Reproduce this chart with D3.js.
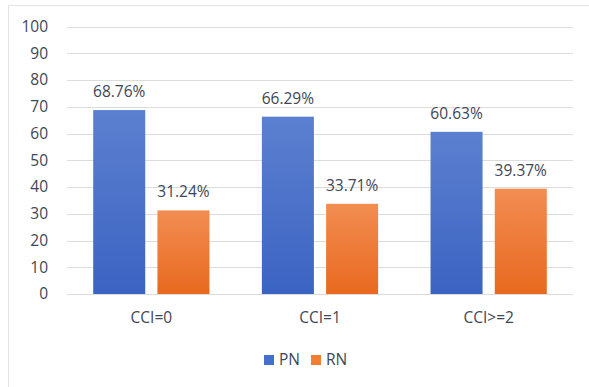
<!DOCTYPE html>
<html>
<head>
<meta charset="utf-8">
<script src="https://cdn.jsdelivr.net/npm/d3@7"></script>
<style>
  body { margin: 0; background: #fff; }
  svg { display: block; font-family: "Open Sans", "Noto Sans", sans-serif; }
</style>
</head>
<body>
<svg id="area" width="589" height="387"></svg>
<script>
const categories = ["CCI=0", "CCI=1", "CCI>=2"];
const seriesNames = ["PN", "RN"];
const pnValues = [68.76, 66.29, 60.63];
const rnValues = [31.24, 33.71, 39.37];
const yTicks = [0, 10, 20, 30, 40, 50, 60, 70, 80, 90, 100];

const svg = d3.select("#area");
const textColor = "#3e4656";

// gradients for the bars
const defs = svg.append("defs");
const grads = { PN: ["#5c80d0", "#3b63c2"], RN: ["#f28d52", "#e8691f"] };
Object.keys(grads).forEach(k => {
  const g = defs.append("linearGradient")
    .attr("id", "grad" + k)
    .attr("x1", 0).attr("y1", 0).attr("x2", 0).attr("y2", 1);
  g.append("stop").attr("offset", "0%").attr("stop-color", grads[k][0]);
  g.append("stop").attr("offset", "100%").attr("stop-color", grads[k][1]);
});

// frame (top + left)
svg.append("path")
  .attr("d", "M8.5,400 V5.5 H600")
  .attr("fill", "none")
  .attr("stroke", "#e3e3e3")
  .attr("stroke-width", 1);

const x = d3.scaleBand().domain(categories).range([67, 573]).paddingInner(0).paddingOuter(0);
const y = d3.scaleLinear().domain([0, 100]).range([294, 26.5]);
const inner = d3.scaleBand().domain(seriesNames).range([26.2, x.bandwidth() - 26.2]).paddingInner(0.19);

// gridlines
svg.append("g")
  .selectAll("line")
  .data(yTicks)
  .join("line")
  .attr("x1", 67).attr("x2", 573)
  .attr("y1", d => Math.round(y(d)) + 0.5)
  .attr("y2", d => Math.round(y(d)) + 0.5)
  .attr("stroke", "#dcdcdc")
  .attr("stroke-width", 1);

// y axis labels
const yAxis = d3.axisLeft(y).tickValues(yTicks).tickSize(0).tickPadding(0);
svg.append("g")
  .attr("transform", "translate(48,0)")
  .call(yAxis)
  .call(g => g.select(".domain").remove())
  .call(g => g.selectAll("text")
    .attr("fill", textColor)
    .attr("font-size", 15.5)
    .attr("font-family", "'Open Sans', sans-serif"));

// bars
const rows = categories.map((c, i) => ({ cat: c, PN: pnValues[i], RN: rnValues[i] }));
const groups = svg.append("g").selectAll("g")
  .data(rows)
  .join("g")
  .attr("transform", d => "translate(" + x(d.cat) + ",0)");

groups.selectAll("rect")
  .data(d => seriesNames.map(s => ({ s: s, v: d[s] })))
  .join("rect")
  .attr("x", d => inner(d.s))
  .attr("width", inner.bandwidth())
  .attr("y", d => y(d.v))
  .attr("height", d => y(0) - y(d.v))
  .attr("fill", d => "url(#grad" + d.s + ")");

groups.selectAll("text.lbl")
  .data(d => seriesNames.map(s => ({ s: s, v: d[s] })))
  .join("text")
  .attr("class", "lbl")
  .attr("x", d => inner(d.s) + inner.bandwidth() / 2)
  .attr("y", d => y(d.v) - 13)
  .attr("text-anchor", "middle")
  .attr("fill", textColor)
  .attr("font-size", 15.5)
  .text(d => d.v.toFixed(2) + "%");

// x axis labels
const xAxis = d3.axisBottom(x).tickSize(0).tickPadding(0);
svg.append("g")
  .attr("transform", "translate(0,312)")
  .call(xAxis)
  .call(g => g.select(".domain").remove())
  .call(g => g.selectAll("text")
    .attr("fill", textColor)
    .attr("font-size", 15.5)
    .attr("font-family", "'Open Sans', sans-serif"));

// legend
const legend = svg.append("g").attr("transform", "translate(264,355)");
const legX = [0, 47];
seriesNames.forEach((s, i) => {
  const lg = legend.append("g").attr("transform", "translate(" + legX[i] + ",0)");
  lg.append("rect").attr("width", 10).attr("height", 10)
    .attr("fill", s === "PN" ? "#4470cc" : "#f07f34");
  lg.append("text").attr("x", 15).attr("y", 10)
    .attr("fill", textColor).attr("font-size", 15.5).text(s);
});
</script>
</body>
</html>
